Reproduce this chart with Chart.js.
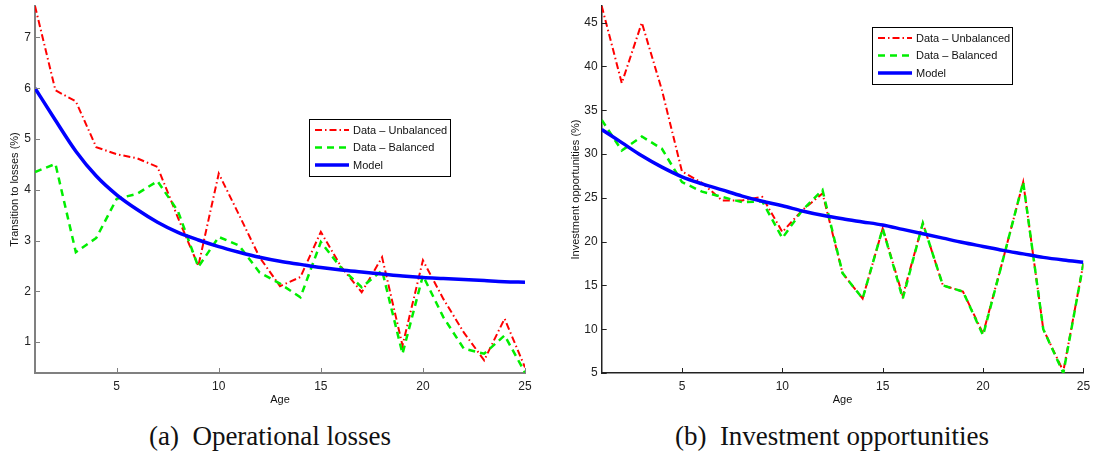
<!DOCTYPE html>
<html>
<head>
<meta charset="utf-8">
<script src="https://cdn.jsdelivr.net/npm/chart.js@4.4.1/dist/chart.umd.min.js"></script>
<style>
  html, body { margin: 0; padding: 0; background: #fff; }
  #wrap { position: relative; width: 1094px; height: 456px; overflow: hidden; background: #fff; }
  canvas { position: absolute; top: 0; }
  .cap { position: absolute; top: 420px; font-family: "Liberation Serif", "DejaVu Serif", serif; font-size: 27px; color: #111; white-space: pre; transform: translateX(-50%); line-height: 32px; }
</style>
</head>
<body>
<div id="wrap">
  <canvas id="c1" width="547" height="410" style="left:0px"></canvas>
  <canvas id="c2" width="547" height="410" style="left:547px"></canvas>
  <div class="cap" style="left:270px">(a)  Operational losses</div>
  <div class="cap" style="left:832px">(b)  Investment opportunities</div>
</div>
<script>
// ---------- data ----------
const ages = [1,2,3,4,5,6,7,8,9,10,11,12,13,14,15,16,17,18,19,20,21,22,23,24,25];
const xTicks = [5,10,15,20,25];

const lossUnbalanced = [7.62,5.96,5.74,4.84,4.70,4.62,4.45,3.45,2.50,4.32,3.50,2.67,2.10,2.28,3.17,2.48,1.98,2.67,0.93,2.61,1.85,1.19,0.64,1.46,0.50];
const lossBalanced   = [4.35,4.51,2.77,3.05,3.82,3.92,4.17,3.58,2.48,3.07,2.90,2.37,2.15,1.88,2.97,2.46,2.08,2.41,0.77,2.31,1.49,0.87,0.77,1.13,0.40];
const lossModel      = [6.00,5.37,4.76,4.27,3.90,3.61,3.36,3.16,3.01,2.88,2.77,2.67,2.59,2.53,2.47,2.42,2.38,2.34,2.30,2.27,2.25,2.23,2.21,2.19,2.18];
const lossTicks = [1,2,3,4,5,6,7];

const invUnbalanced = [46.9,38.1,45.0,37.3,28.0,26.7,24.7,24.7,25.1,21.1,23.6,25.5,16.4,13.5,21.5,13.8,22.1,15.0,14.3,9.5,18.0,26.8,10.0,5.2,17.5];
const invBalanced   = [33.9,30.4,32.0,30.6,26.8,25.7,25.1,24.5,24.6,20.4,23.6,25.9,16.4,13.5,21.5,13.5,22.1,15.0,14.3,9.3,18.0,26.8,10.0,5.0,17.5];
const invModel      = [32.8,31.3,29.8,28.5,27.4,26.6,25.9,25.2,24.6,24.1,23.5,23.0,22.6,22.25,21.9,21.4,20.9,20.4,19.9,19.45,19.0,18.6,18.2,17.9,17.65];
const invTicks = [5,10,15,20,25,30,35,40,45];

const seriesNames = ['Data \u2013 Unbalanced', 'Data \u2013 Balanced', 'Model'];

// ---------- plugins ----------
const inwardTicks = {
  id: 'inwardTicks',
  afterDraw(chart, args, opts) {
    const { ctx, chartArea: ca, scales: { x, y } } = chart;
    ctx.save();
    ctx.strokeStyle = opts.color;
    ctx.lineWidth = opts.width;
    x.ticks.forEach(t => {
      const px = Math.round(x.getPixelForValue(t.value)) + 0.5;
      ctx.beginPath(); ctx.moveTo(px, ca.bottom); ctx.lineTo(px, ca.bottom - opts.len); ctx.stroke();
    });
    y.ticks.forEach(t => {
      const py = Math.round(y.getPixelForValue(t.value)) + 0.5;
      ctx.beginPath(); ctx.moveTo(ca.left, py); ctx.lineTo(ca.left + opts.len, py); ctx.stroke();
    });
    ctx.restore();
  }
};

const boxLegend = {
  id: 'boxLegend',
  afterDraw(chart, args, opts) {
    const ctx = chart.ctx;
    const { x, y, w, h } = opts;
    ctx.save();
    ctx.fillStyle = '#fff';
    ctx.fillRect(x, y, w, h);
    ctx.strokeStyle = '#000';
    ctx.lineWidth = 1;
    ctx.strokeRect(x + 0.5, y + 0.5, w, h);
    ctx.font = '11px "Liberation Sans", Arial, sans-serif';
    ctx.textBaseline = 'middle';
    ctx.fillStyle = '#111';
    chart.data.datasets.forEach((ds, i) => {
      const ry = y + 11 + i * 17.5;
      ctx.beginPath();
      ctx.strokeStyle = ds.borderColor;
      ctx.lineWidth = ds.borderWidth;
      ctx.setLineDash(ds.borderDash || []);
      ctx.moveTo(x + 6, ry); ctx.lineTo(x + 40, ry);
      ctx.stroke();
      ctx.setLineDash([]);
      ctx.fillText(ds.label, x + 44, ry + 0.5);
    });
    ctx.restore();
  }
};

function zeroPad(s) { s.paddingTop = 0; s.paddingBottom = 0; s.paddingLeft = 0; s.paddingRight = 0; }

function makeChart(id, unb, bal, model, yTicks, yMin, yMax, yTitle, cfg) {
  const toPts = arr => ages.map((a, i) => ({ x: a, y: arr[i] }));
  return new Chart(document.getElementById(id), {
    type: 'line',
    data: {
      datasets: [
        { label: seriesNames[0], data: toPts(unb), borderColor: '#ff0000', borderWidth: 2, borderDash: [7, 3, 1.5, 3], pointRadius: 0, tension: 0, order: 3 },
        { label: seriesNames[1], data: toPts(bal), borderColor: '#00ee00', borderWidth: 2.5, borderDash: [7, 5], pointRadius: 0, tension: 0, order: 2 },
        { label: seriesNames[2], data: toPts(model), borderColor: '#0000ff', borderWidth: 3.5, pointRadius: 0, cubicInterpolationMode: 'monotone', order: 1 }
      ]
    },
    options: {
      responsive: false,
      animation: false,
      events: [],
      layout: { padding: cfg.padding },
      plugins: {
        legend: { display: false },
        tooltip: { enabled: false },
        inwardTicks: { color: cfg.axisColor, width: 1, len: 5 },
        boxLegend: cfg.legend
      },
      scales: {
        x: {
          type: 'linear', min: 1, max: 25,
          afterBuildTicks: s => { s.ticks = xTicks.map(v => ({ value: v })); },
          afterFit: s => { s.height = 37; zeroPad(s); },
          grid: { display: false, drawTicks: false },
          border: { display: true, color: cfg.axisColor, width: cfg.axisWidth },
          ticks: { padding: 6, color: '#222', font: { family: '"Liberation Sans", Arial, sans-serif', size: 12 }, autoSkip: false, maxRotation: 0 },
          title: { display: true, text: 'Age', color: '#111', font: { family: '"Liberation Sans", Arial, sans-serif', size: 11 }, padding: { top: 0, bottom: 3 } }
        },
        y: {
          type: 'linear', min: yMin, max: yMax,
          afterBuildTicks: s => { s.ticks = yTicks.map(v => ({ value: v })); },
          afterFit: s => { s.width = cfg.yWidth; zeroPad(s); },
          grid: { display: false, drawTicks: false },
          border: { display: true, color: cfg.axisColor, width: cfg.axisWidth },
          ticks: { padding: 4, color: '#222', font: { family: '"Liberation Sans", Arial, sans-serif', size: 12 }, autoSkip: false },
          title: { display: true, text: yTitle, color: '#111', font: { family: '"Liberation Sans", Arial, sans-serif', size: 11 }, padding: { top: cfg.yTitlePad, bottom: 0 } }
        }
      }
    },
    plugins: [inwardTicks, boxLegend]
  });
}

makeChart('c1', lossUnbalanced, lossBalanced, lossModel, lossTicks, 0.39, 7.62, 'Transition to losses (%)', {
  padding: { left: 0, right: 22, top: 6, bottom: 0 },
  yWidth: 35, yTitlePad: 8, axisColor: '#808080', axisWidth: 2,
  legend: { x: 309, y: 119, w: 141, h: 57 }
});

makeChart('c2', invUnbalanced, invBalanced, invModel, invTicks, 5, 46.9, 'Investment opportunities (%)', {
  padding: { left: 0, right: 10.6, top: 6, bottom: 0 },
  yWidth: 54.7, yTitlePad: 22, axisColor: '#222', axisWidth: 1.5,
  legend: { x: 325, y: 27, w: 140, h: 57 }
});
</script>
</body>
</html>
